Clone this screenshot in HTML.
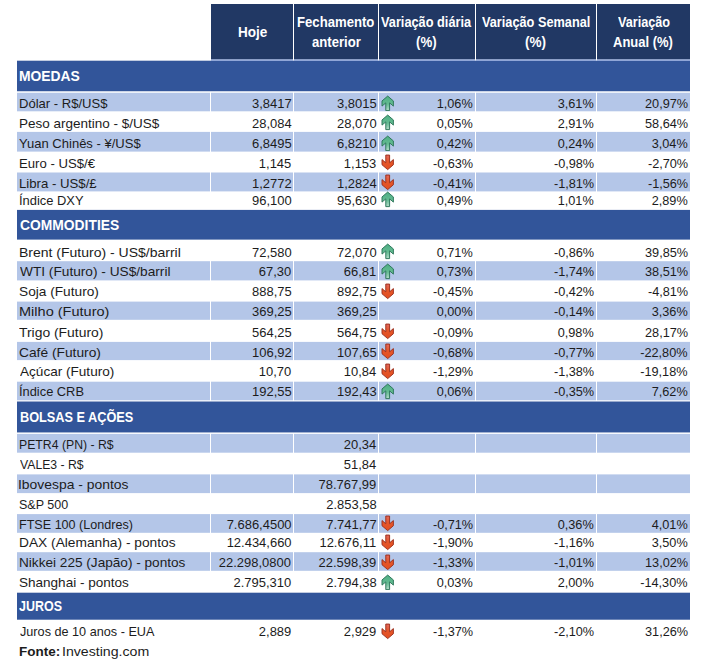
<!DOCTYPE html>
<html lang="pt-BR"><head><meta charset="utf-8"><title>Indicadores</title>
<style>
html,body{margin:0;padding:0;background:#fff;}
body{width:706px;height:662px;position:relative;overflow:hidden;font-family:"Liberation Sans",sans-serif;color:#1c1c1c;}
.bg{position:absolute;left:0;top:0;}
.t{position:absolute;white-space:nowrap;line-height:1;}
.n{font-size:13.3px;}
.nb{font-size:13.3px;font-weight:bold;}
.h{font-size:13.8px;font-weight:bold;color:#fff;}
.s{font-size:14.7px;font-weight:bold;color:#fff;}
.ar{position:absolute;left:381.1px;}
</style></head><body>
<svg width="0" height="0" style="position:absolute"><defs>
<linearGradient id="gu" x1="0" y1="0" x2="0" y2="1"><stop offset="0" stop-color="#4fae84"/><stop offset=".55" stop-color="#63bb91"/><stop offset="1" stop-color="#b5dccb"/></linearGradient>
<linearGradient id="gd" x1="0" y1="0" x2="0" y2="1"><stop offset="0" stop-color="#e26a60"/><stop offset=".45" stop-color="#e5562a"/><stop offset="1" stop-color="#e24e1f"/></linearGradient>
</defs></svg>
<svg class="bg" width="706" height="662" viewBox="0 0 706 662"><rect x="211" y="58" width="479" height="3.2" fill="#b9caf2"/><rect x="211.00" y="4.00" width="82.00" height="55.30" fill="#213864"/><rect x="294.00" y="4.00" width="84.00" height="55.30" fill="#213864"/><rect x="379.00" y="4.00" width="96.00" height="55.30" fill="#213864"/><rect x="476.00" y="4.00" width="120.00" height="55.30" fill="#213864"/><rect x="597.00" y="4.00" width="93.00" height="55.30" fill="#213864"/><rect x="293.00" y="4" width="1" height="56.8" fill="#fff"/><rect x="378.00" y="4" width="1" height="56.8" fill="#fff"/><rect x="475.00" y="4" width="1" height="56.8" fill="#fff"/><rect x="596.00" y="4" width="1" height="56.8" fill="#fff"/><rect x="17.00" y="60.70" width="673.00" height="30.55" fill="#32559a"/><rect x="17.00" y="209.90" width="673.00" height="29.70" fill="#32559a"/><rect x="17.00" y="401.50" width="673.00" height="30.95" fill="#32559a"/><rect x="17.00" y="592.70" width="673.00" height="27.00" fill="#32559a"/><rect x="17.00" y="92.75" width="193.00" height="18.55" fill="#b4c6e8"/><rect x="211.00" y="92.75" width="82.00" height="18.55" fill="#b4c6e8"/><rect x="294.00" y="92.75" width="84.00" height="18.55" fill="#b4c6e8"/><rect x="379.00" y="92.75" width="96.00" height="18.55" fill="#b4c6e8"/><rect x="476.00" y="92.75" width="120.00" height="18.55" fill="#b4c6e8"/><rect x="597.00" y="92.75" width="93.00" height="18.55" fill="#b4c6e8"/><rect x="17.00" y="131.90" width="193.00" height="19.70" fill="#b4c6e8"/><rect x="211.00" y="131.90" width="82.00" height="19.70" fill="#b4c6e8"/><rect x="294.00" y="131.90" width="84.00" height="19.70" fill="#b4c6e8"/><rect x="379.00" y="131.90" width="96.00" height="19.70" fill="#b4c6e8"/><rect x="476.00" y="131.90" width="120.00" height="19.70" fill="#b4c6e8"/><rect x="597.00" y="131.90" width="93.00" height="19.70" fill="#b4c6e8"/><rect x="17.00" y="172.50" width="193.00" height="18.90" fill="#b4c6e8"/><rect x="211.00" y="172.50" width="82.00" height="18.90" fill="#b4c6e8"/><rect x="294.00" y="172.50" width="84.00" height="18.90" fill="#b4c6e8"/><rect x="379.00" y="172.50" width="96.00" height="18.90" fill="#b4c6e8"/><rect x="476.00" y="172.50" width="120.00" height="18.90" fill="#b4c6e8"/><rect x="597.00" y="172.50" width="93.00" height="18.90" fill="#b4c6e8"/><rect x="17.00" y="261.20" width="193.00" height="19.20" fill="#b4c6e8"/><rect x="211.00" y="261.20" width="82.00" height="19.20" fill="#b4c6e8"/><rect x="294.00" y="261.20" width="84.00" height="19.20" fill="#b4c6e8"/><rect x="379.00" y="261.20" width="96.00" height="19.20" fill="#b4c6e8"/><rect x="476.00" y="261.20" width="120.00" height="19.20" fill="#b4c6e8"/><rect x="597.00" y="261.20" width="93.00" height="19.20" fill="#b4c6e8"/><rect x="17.00" y="301.60" width="193.00" height="18.20" fill="#b4c6e8"/><rect x="211.00" y="301.60" width="82.00" height="18.20" fill="#b4c6e8"/><rect x="294.00" y="301.60" width="84.00" height="18.20" fill="#b4c6e8"/><rect x="379.00" y="301.60" width="96.00" height="18.20" fill="#b4c6e8"/><rect x="476.00" y="301.60" width="120.00" height="18.20" fill="#b4c6e8"/><rect x="597.00" y="301.60" width="93.00" height="18.20" fill="#b4c6e8"/><rect x="17.00" y="341.90" width="193.00" height="18.20" fill="#b4c6e8"/><rect x="211.00" y="341.90" width="82.00" height="18.20" fill="#b4c6e8"/><rect x="294.00" y="341.90" width="84.00" height="18.20" fill="#b4c6e8"/><rect x="379.00" y="341.90" width="96.00" height="18.20" fill="#b4c6e8"/><rect x="476.00" y="341.90" width="120.00" height="18.20" fill="#b4c6e8"/><rect x="597.00" y="341.90" width="93.00" height="18.20" fill="#b4c6e8"/><rect x="17.00" y="381.70" width="193.00" height="18.60" fill="#b4c6e8"/><rect x="211.00" y="381.70" width="82.00" height="18.60" fill="#b4c6e8"/><rect x="294.00" y="381.70" width="84.00" height="18.60" fill="#b4c6e8"/><rect x="379.00" y="381.70" width="96.00" height="18.60" fill="#b4c6e8"/><rect x="476.00" y="381.70" width="120.00" height="18.60" fill="#b4c6e8"/><rect x="597.00" y="381.70" width="93.00" height="18.60" fill="#b4c6e8"/><rect x="17.00" y="433.90" width="193.00" height="18.80" fill="#b4c6e8"/><rect x="211.00" y="433.90" width="82.00" height="18.80" fill="#b4c6e8"/><rect x="294.00" y="433.90" width="84.00" height="18.80" fill="#b4c6e8"/><rect x="379.00" y="433.90" width="96.00" height="18.80" fill="#b4c6e8"/><rect x="476.00" y="433.90" width="120.00" height="18.80" fill="#b4c6e8"/><rect x="597.00" y="433.90" width="93.00" height="18.80" fill="#b4c6e8"/><rect x="17.00" y="474.40" width="193.00" height="18.70" fill="#b4c6e8"/><rect x="211.00" y="474.40" width="82.00" height="18.70" fill="#b4c6e8"/><rect x="294.00" y="474.40" width="84.00" height="18.70" fill="#b4c6e8"/><rect x="379.00" y="474.40" width="96.00" height="18.70" fill="#b4c6e8"/><rect x="476.00" y="474.40" width="120.00" height="18.70" fill="#b4c6e8"/><rect x="597.00" y="474.40" width="93.00" height="18.70" fill="#b4c6e8"/><rect x="17.00" y="514.10" width="193.00" height="18.70" fill="#b4c6e8"/><rect x="211.00" y="514.10" width="82.00" height="18.70" fill="#b4c6e8"/><rect x="294.00" y="514.10" width="84.00" height="18.70" fill="#b4c6e8"/><rect x="379.00" y="514.10" width="96.00" height="18.70" fill="#b4c6e8"/><rect x="476.00" y="514.10" width="120.00" height="18.70" fill="#b4c6e8"/><rect x="597.00" y="514.10" width="93.00" height="18.70" fill="#b4c6e8"/><rect x="17.00" y="552.20" width="193.00" height="18.60" fill="#b4c6e8"/><rect x="211.00" y="552.20" width="82.00" height="18.60" fill="#b4c6e8"/><rect x="294.00" y="552.20" width="84.00" height="18.60" fill="#b4c6e8"/><rect x="379.00" y="552.20" width="96.00" height="18.60" fill="#b4c6e8"/><rect x="476.00" y="552.20" width="120.00" height="18.60" fill="#b4c6e8"/><rect x="597.00" y="552.20" width="93.00" height="18.60" fill="#b4c6e8"/></svg>
<div class="t s" style="left:19.47px;top:69.26px;transform-origin:0 0;transform:scaleX(0.9442)">MOEDAS</div>
<div class="t n" style="left:18.63px;top:96.74px;transform-origin:0 0;transform:scaleX(0.9814)">Dólar - R$/US$</div>
<div class="t n" style="right:414.55px;top:96.74px;transform-origin:100% 0;transform:scaleX(0.9750)">3,8417</div>
<div class="t n" style="right:329.46px;top:96.74px;transform-origin:100% 0;transform:scaleX(0.9750)">3,8015</div>
<div class="t n" style="right:232.95px;top:96.74px;transform-origin:100% 0;transform:scaleX(0.9550)">1,06%</div>
<div class="t n" style="right:112.15px;top:96.74px;transform-origin:100% 0;transform:scaleX(0.9550)">3,61%</div>
<div class="t n" style="right:18.25px;top:96.74px;transform-origin:100% 0;transform:scaleX(0.9550)">20,97%</div>
<div class="t n" style="left:18.59px;top:116.64px;transform-origin:0 0;transform:scaleX(1.0151)">Peso argentino - $/US$</div>
<div class="t n" style="right:414.82px;top:116.64px;transform-origin:100% 0;transform:scaleX(0.9750)">28,084</div>
<div class="t n" style="right:329.49px;top:116.64px;transform-origin:100% 0;transform:scaleX(0.9750)">28,070</div>
<div class="t n" style="right:232.95px;top:116.64px;transform-origin:100% 0;transform:scaleX(0.9550)">0,05%</div>
<div class="t n" style="right:112.15px;top:116.64px;transform-origin:100% 0;transform:scaleX(0.9550)">2,91%</div>
<div class="t n" style="right:18.25px;top:116.64px;transform-origin:100% 0;transform:scaleX(0.9550)">58,64%</div>
<div class="t n" style="left:19.41px;top:136.74px;transform-origin:0 0;transform:scaleX(0.9799)">Yuan Chinês - ¥/US$</div>
<div class="t n" style="right:414.66px;top:136.74px;transform-origin:100% 0;transform:scaleX(0.9750)">6,8495</div>
<div class="t n" style="right:329.49px;top:136.74px;transform-origin:100% 0;transform:scaleX(0.9750)">6,8210</div>
<div class="t n" style="right:232.95px;top:136.74px;transform-origin:100% 0;transform:scaleX(0.9550)">0,42%</div>
<div class="t n" style="right:112.15px;top:136.74px;transform-origin:100% 0;transform:scaleX(0.9550)">0,24%</div>
<div class="t n" style="right:18.25px;top:136.74px;transform-origin:100% 0;transform:scaleX(0.9550)">3,04%</div>
<div class="t n" style="left:18.62px;top:156.64px;transform-origin:0 0;transform:scaleX(0.9882)">Euro - US$/€</div>
<div class="t n" style="right:414.66px;top:156.64px;transform-origin:100% 0;transform:scaleX(0.9750)">1,145</div>
<div class="t n" style="right:329.43px;top:156.64px;transform-origin:100% 0;transform:scaleX(0.9750)">1,153</div>
<div class="t n" style="right:232.95px;top:156.64px;transform-origin:100% 0;transform:scaleX(0.9550)">-0,63%</div>
<div class="t n" style="right:112.15px;top:156.64px;transform-origin:100% 0;transform:scaleX(0.9550)">-0,98%</div>
<div class="t n" style="right:18.25px;top:156.64px;transform-origin:100% 0;transform:scaleX(0.9550)">-2,70%</div>
<div class="t n" style="left:18.62px;top:176.54px;transform-origin:0 0;transform:scaleX(0.9919)">Libra - US$/£</div>
<div class="t n" style="right:414.55px;top:176.54px;transform-origin:100% 0;transform:scaleX(0.9750)">1,2772</div>
<div class="t n" style="right:329.62px;top:176.54px;transform-origin:100% 0;transform:scaleX(0.9750)">1,2824</div>
<div class="t n" style="right:232.95px;top:176.54px;transform-origin:100% 0;transform:scaleX(0.9550)">-0,41%</div>
<div class="t n" style="right:112.15px;top:176.54px;transform-origin:100% 0;transform:scaleX(0.9550)">-1,81%</div>
<div class="t n" style="right:18.25px;top:176.54px;transform-origin:100% 0;transform:scaleX(0.9550)">-1,56%</div>
<div class="t n" style="left:18.80px;top:193.54px;transform-origin:0 0;transform:scaleX(0.9707)">Índice DXY</div>
<div class="t n" style="right:414.69px;top:193.54px;transform-origin:100% 0;transform:scaleX(0.9750)">96,100</div>
<div class="t n" style="right:329.49px;top:193.54px;transform-origin:100% 0;transform:scaleX(0.9750)">95,630</div>
<div class="t n" style="right:232.95px;top:193.54px;transform-origin:100% 0;transform:scaleX(0.9550)">0,49%</div>
<div class="t n" style="right:112.15px;top:193.54px;transform-origin:100% 0;transform:scaleX(0.9550)">1,01%</div>
<div class="t n" style="right:18.25px;top:193.54px;transform-origin:100% 0;transform:scaleX(0.9550)">2,89%</div>
<div class="t s" style="left:19.83px;top:218.46px;transform-origin:0 0;transform:scaleX(0.9425)">COMMODITIES</div>
<div class="t n" style="left:18.55px;top:245.64px;transform-origin:0 0;transform:scaleX(1.0526)">Brent (Futuro) - US$/barril</div>
<div class="t n" style="right:414.69px;top:245.64px;transform-origin:100% 0;transform:scaleX(0.9750)">72,580</div>
<div class="t n" style="right:329.49px;top:245.64px;transform-origin:100% 0;transform:scaleX(0.9750)">72,070</div>
<div class="t n" style="right:232.95px;top:245.64px;transform-origin:100% 0;transform:scaleX(0.9550)">0,71%</div>
<div class="t n" style="right:112.15px;top:245.64px;transform-origin:100% 0;transform:scaleX(0.9550)">-0,86%</div>
<div class="t n" style="right:18.25px;top:245.64px;transform-origin:100% 0;transform:scaleX(0.9550)">39,85%</div>
<div class="t n" style="left:19.64px;top:265.44px;transform-origin:0 0;transform:scaleX(1.0287)">WTI (Futuro) - US$/barril</div>
<div class="t n" style="right:414.69px;top:265.44px;transform-origin:100% 0;transform:scaleX(0.9750)">67,30</div>
<div class="t n" style="right:329.37px;top:265.44px;transform-origin:100% 0;transform:scaleX(0.9750)">66,81</div>
<div class="t n" style="right:232.95px;top:265.44px;transform-origin:100% 0;transform:scaleX(0.9550)">0,73%</div>
<div class="t n" style="right:112.15px;top:265.44px;transform-origin:100% 0;transform:scaleX(0.9550)">-1,74%</div>
<div class="t n" style="right:18.25px;top:265.44px;transform-origin:100% 0;transform:scaleX(0.9550)">38,51%</div>
<div class="t n" style="left:19.08px;top:285.34px;transform-origin:0 0;transform:scaleX(1.0293)">Soja (Futuro)</div>
<div class="t n" style="right:414.66px;top:285.34px;transform-origin:100% 0;transform:scaleX(0.9750)">888,75</div>
<div class="t n" style="right:329.46px;top:285.34px;transform-origin:100% 0;transform:scaleX(0.9750)">892,75</div>
<div class="t n" style="right:232.95px;top:285.34px;transform-origin:100% 0;transform:scaleX(0.9550)">-0,45%</div>
<div class="t n" style="right:112.15px;top:285.34px;transform-origin:100% 0;transform:scaleX(0.9550)">-0,42%</div>
<div class="t n" style="right:18.25px;top:285.34px;transform-origin:100% 0;transform:scaleX(0.9550)">-4,81%</div>
<div class="t n" style="left:18.51px;top:305.24px;transform-origin:0 0;transform:scaleX(1.0921)">Milho (Futuro)</div>
<div class="t n" style="right:414.66px;top:305.24px;transform-origin:100% 0;transform:scaleX(0.9750)">369,25</div>
<div class="t n" style="right:329.46px;top:305.24px;transform-origin:100% 0;transform:scaleX(0.9750)">369,25</div>
<div class="t n" style="right:232.95px;top:305.24px;transform-origin:100% 0;transform:scaleX(0.9550)">0,00%</div>
<div class="t n" style="right:112.15px;top:305.24px;transform-origin:100% 0;transform:scaleX(0.9550)">-0,14%</div>
<div class="t n" style="right:18.25px;top:305.24px;transform-origin:100% 0;transform:scaleX(0.9550)">3,36%</div>
<div class="t n" style="left:19.39px;top:325.64px;transform-origin:0 0;transform:scaleX(1.0445)">Trigo (Futuro)</div>
<div class="t n" style="right:414.66px;top:325.64px;transform-origin:100% 0;transform:scaleX(0.9750)">564,25</div>
<div class="t n" style="right:329.46px;top:325.64px;transform-origin:100% 0;transform:scaleX(0.9750)">564,75</div>
<div class="t n" style="right:232.95px;top:325.64px;transform-origin:100% 0;transform:scaleX(0.9550)">-0,09%</div>
<div class="t n" style="right:112.15px;top:325.64px;transform-origin:100% 0;transform:scaleX(0.9550)">0,98%</div>
<div class="t n" style="right:18.25px;top:325.64px;transform-origin:100% 0;transform:scaleX(0.9550)">28,17%</div>
<div class="t n" style="left:19.00px;top:345.54px;transform-origin:0 0;transform:scaleX(1.0364)">Café (Futuro)</div>
<div class="t n" style="right:414.55px;top:345.54px;transform-origin:100% 0;transform:scaleX(0.9750)">106,92</div>
<div class="t n" style="right:329.46px;top:345.54px;transform-origin:100% 0;transform:scaleX(0.9750)">107,65</div>
<div class="t n" style="right:232.95px;top:345.54px;transform-origin:100% 0;transform:scaleX(0.9550)">-0,68%</div>
<div class="t n" style="right:112.15px;top:345.54px;transform-origin:100% 0;transform:scaleX(0.9550)">-0,77%</div>
<div class="t n" style="right:18.25px;top:345.54px;transform-origin:100% 0;transform:scaleX(0.9550)">-22,80%</div>
<div class="t n" style="left:19.67px;top:365.34px;transform-origin:0 0;transform:scaleX(1.0205)">Açúcar (Futuro)</div>
<div class="t n" style="right:414.69px;top:365.34px;transform-origin:100% 0;transform:scaleX(0.9750)">10,70</div>
<div class="t n" style="right:329.62px;top:365.34px;transform-origin:100% 0;transform:scaleX(0.9750)">10,84</div>
<div class="t n" style="right:232.95px;top:365.34px;transform-origin:100% 0;transform:scaleX(0.9550)">-1,29%</div>
<div class="t n" style="right:112.15px;top:365.34px;transform-origin:100% 0;transform:scaleX(0.9550)">-1,38%</div>
<div class="t n" style="right:18.25px;top:365.34px;transform-origin:100% 0;transform:scaleX(0.9550)">-19,18%</div>
<div class="t n" style="left:18.81px;top:385.24px;transform-origin:0 0;transform:scaleX(0.9658)">Índice CRB</div>
<div class="t n" style="right:414.66px;top:385.24px;transform-origin:100% 0;transform:scaleX(0.9750)">192,55</div>
<div class="t n" style="right:329.43px;top:385.24px;transform-origin:100% 0;transform:scaleX(0.9750)">192,43</div>
<div class="t n" style="right:232.95px;top:385.24px;transform-origin:100% 0;transform:scaleX(0.9550)">0,06%</div>
<div class="t n" style="right:112.15px;top:385.24px;transform-origin:100% 0;transform:scaleX(0.9550)">-0,35%</div>
<div class="t n" style="right:18.25px;top:385.24px;transform-origin:100% 0;transform:scaleX(0.9550)">7,62%</div>
<div class="t s" style="left:19.55px;top:409.86px;transform-origin:0 0;transform:scaleX(0.8662)">BOLSAS E AÇÕES</div>
<div class="t n" style="left:18.70px;top:438.34px;transform-origin:0 0;transform:scaleX(0.9211)">PETR4 (PN) - R$</div>
<div class="t n" style="right:329.62px;top:438.34px;transform-origin:100% 0;transform:scaleX(0.9750)">20,34</div>
<div class="t n" style="left:19.65px;top:458.44px;transform-origin:0 0;transform:scaleX(0.9194)">VALE3 - R$</div>
<div class="t n" style="right:329.62px;top:458.44px;transform-origin:100% 0;transform:scaleX(0.9750)">51,84</div>
<div class="t n" style="left:18.42px;top:478.24px;transform-origin:0 0;transform:scaleX(1.0451)">Ibovespa - pontos</div>
<div class="t n" style="right:329.39px;top:478.24px;transform-origin:100% 0;transform:scaleX(0.9750)">78.767,99</div>
<div class="t n" style="left:19.13px;top:498.04px;transform-origin:0 0;transform:scaleX(0.9408)">S&amp;P 500</div>
<div class="t n" style="right:329.44px;top:498.04px;transform-origin:100% 0;transform:scaleX(0.9750)">2.853,58</div>
<div class="t n" style="left:18.67px;top:517.64px;transform-origin:0 0;transform:scaleX(0.9456)">FTSE 100 (Londres)</div>
<div class="t n" style="right:414.69px;top:517.64px;transform-origin:100% 0;transform:scaleX(0.9750)">7.686,4500</div>
<div class="t n" style="right:329.35px;top:517.64px;transform-origin:100% 0;transform:scaleX(0.9750)">7.741,77</div>
<div class="t n" style="right:232.95px;top:517.64px;transform-origin:100% 0;transform:scaleX(0.9550)">-0,71%</div>
<div class="t n" style="right:112.15px;top:517.64px;transform-origin:100% 0;transform:scaleX(0.9550)">0,36%</div>
<div class="t n" style="right:18.25px;top:517.64px;transform-origin:100% 0;transform:scaleX(0.9550)">4,01%</div>
<div class="t n" style="left:18.57px;top:536.24px;transform-origin:0 0;transform:scaleX(1.0331)">DAX (Alemanha) - pontos</div>
<div class="t n" style="right:414.69px;top:536.24px;transform-origin:100% 0;transform:scaleX(0.9750)">12.434,660</div>
<div class="t n" style="right:329.37px;top:536.24px;transform-origin:100% 0;transform:scaleX(0.9750)">12.676,11</div>
<div class="t n" style="right:232.95px;top:536.24px;transform-origin:100% 0;transform:scaleX(0.9550)">-1,90%</div>
<div class="t n" style="right:112.15px;top:536.24px;transform-origin:100% 0;transform:scaleX(0.9550)">-1,16%</div>
<div class="t n" style="right:18.25px;top:536.24px;transform-origin:100% 0;transform:scaleX(0.9550)">3,50%</div>
<div class="t n" style="left:18.58px;top:555.94px;transform-origin:0 0;transform:scaleX(1.0234)">Nikkei 225 (Japão) - pontos</div>
<div class="t n" style="right:414.69px;top:555.94px;transform-origin:100% 0;transform:scaleX(0.9750)">22.298,0800</div>
<div class="t n" style="right:329.39px;top:555.94px;transform-origin:100% 0;transform:scaleX(0.9750)">22.598,39</div>
<div class="t n" style="right:232.95px;top:555.94px;transform-origin:100% 0;transform:scaleX(0.9550)">-1,33%</div>
<div class="t n" style="right:112.15px;top:555.94px;transform-origin:100% 0;transform:scaleX(0.9550)">-1,01%</div>
<div class="t n" style="right:18.25px;top:555.94px;transform-origin:100% 0;transform:scaleX(0.9550)">13,02%</div>
<div class="t n" style="left:19.09px;top:575.94px;transform-origin:0 0;transform:scaleX(1.0173)">Shanghai - pontos</div>
<div class="t n" style="right:414.69px;top:575.94px;transform-origin:100% 0;transform:scaleX(0.9750)">2.795,310</div>
<div class="t n" style="right:329.44px;top:575.94px;transform-origin:100% 0;transform:scaleX(0.9750)">2.794,38</div>
<div class="t n" style="right:232.95px;top:575.94px;transform-origin:100% 0;transform:scaleX(0.9550)">0,03%</div>
<div class="t n" style="right:112.15px;top:575.94px;transform-origin:100% 0;transform:scaleX(0.9550)">2,00%</div>
<div class="t n" style="right:18.25px;top:575.94px;transform-origin:100% 0;transform:scaleX(0.9550)">-14,30%</div>
<div class="t s" style="left:19.11px;top:599.16px;transform-origin:0 0;transform:scaleX(0.8492)">JUROS</div>
<div class="t n" style="left:19.50px;top:625.24px;transform-origin:0 0;transform:scaleX(0.9522)">Juros de 10 anos - EUA</div>
<div class="t n" style="right:414.59px;top:625.24px;transform-origin:100% 0;transform:scaleX(0.9750)">2,889</div>
<div class="t n" style="right:329.39px;top:625.24px;transform-origin:100% 0;transform:scaleX(0.9750)">2,929</div>
<div class="t n" style="right:232.95px;top:625.24px;transform-origin:100% 0;transform:scaleX(0.9550)">-1,37%</div>
<div class="t n" style="right:112.15px;top:625.24px;transform-origin:100% 0;transform:scaleX(0.9550)">-2,10%</div>
<div class="t n" style="right:18.25px;top:625.24px;transform-origin:100% 0;transform:scaleX(0.9550)">31,26%</div>
<div class="t nb" style="left:18.80px;top:645.14px;transform-origin:0 0;transform:scaleX(1.0141)">Fonte:</div>
<div class="t n" style="left:62.09px;top:645.14px;transform-origin:0 0;transform:scaleX(1.0633)">Investing.com</div>
<div class="t h" style="left:237.79px;top:25.62px;transform-origin:0 0;transform:scaleX(0.9821)">Hoje</div>
<div class="t h" style="left:297.02px;top:15.72px;transform-origin:0 0;transform:scaleX(0.9523)">Fechamento</div>
<div class="t h" style="left:311.72px;top:35.52px;transform-origin:0 0;transform:scaleX(0.9495)">anterior</div>
<div class="t h" style="left:381.11px;top:15.72px;transform-origin:0 0;transform:scaleX(0.9249)">Variação diária</div>
<div class="t h" style="left:416.24px;top:35.52px;transform-origin:0 0;transform:scaleX(0.9605)">(%)</div>
<div class="t h" style="left:481.91px;top:15.72px;transform-origin:0 0;transform:scaleX(0.9227)">Variação Semanal</div>
<div class="t h" style="left:525.13px;top:35.52px;transform-origin:0 0;transform:scaleX(0.9804)">(%)</div>
<div class="t h" style="left:618.01px;top:15.72px;transform-origin:0 0;transform:scaleX(0.9175)">Variação</div>
<div class="t h" style="left:613.38px;top:35.52px;transform-origin:0 0;transform:scaleX(0.9410)">Anual (%)</div>
<svg class="ar" style="top:94.5px" width="13.4" height="16.7" viewBox="0 0 14 17.4"><path d="M7 1.1 L12.95 6.2 L12.95 11.6 L9 8.2 L9 16.3 L5 16.3 L5 8.2 L1.05 11.6 L1.05 6.2 Z" fill="url(#gu)" stroke="#2a7558" stroke-width="1" stroke-linejoin="round"/></svg>
<svg class="ar" style="top:114.4px" width="13.4" height="16.7" viewBox="0 0 14 17.4"><path d="M7 1.1 L12.95 6.2 L12.95 11.6 L9 8.2 L9 16.3 L5 16.3 L5 8.2 L1.05 11.6 L1.05 6.2 Z" fill="url(#gu)" stroke="#2a7558" stroke-width="1" stroke-linejoin="round"/></svg>
<svg class="ar" style="top:134.5px" width="13.4" height="16.7" viewBox="0 0 14 17.4"><path d="M7 1.1 L12.95 6.2 L12.95 11.6 L9 8.2 L9 16.3 L5 16.3 L5 8.2 L1.05 11.6 L1.05 6.2 Z" fill="url(#gu)" stroke="#2a7558" stroke-width="1" stroke-linejoin="round"/></svg>
<svg class="ar" style="top:154.4px" width="13.4" height="16.7" viewBox="0 0 14 17.4"><path d="M7 16.3 L12.95 11.2 L12.95 5.8 L9 9.2 L9 1.1 L5 1.1 L5 9.2 L1.05 5.8 L1.05 11.2 Z" fill="url(#gd)" stroke="#9a2f1c" stroke-width="1" stroke-linejoin="round"/></svg>
<svg class="ar" style="top:174.3px" width="13.4" height="16.7" viewBox="0 0 14 17.4"><path d="M7 16.3 L12.95 11.2 L12.95 5.8 L9 9.2 L9 1.1 L5 1.1 L5 9.2 L1.05 5.8 L1.05 11.2 Z" fill="url(#gd)" stroke="#9a2f1c" stroke-width="1" stroke-linejoin="round"/></svg>
<svg class="ar" style="top:191.3px" width="13.4" height="16.7" viewBox="0 0 14 17.4"><path d="M7 1.1 L12.95 6.2 L12.95 11.6 L9 8.2 L9 16.3 L5 16.3 L5 8.2 L1.05 11.6 L1.05 6.2 Z" fill="url(#gu)" stroke="#2a7558" stroke-width="1" stroke-linejoin="round"/></svg>
<svg class="ar" style="top:243.4px" width="13.4" height="16.7" viewBox="0 0 14 17.4"><path d="M7 1.1 L12.95 6.2 L12.95 11.6 L9 8.2 L9 16.3 L5 16.3 L5 8.2 L1.05 11.6 L1.05 6.2 Z" fill="url(#gu)" stroke="#2a7558" stroke-width="1" stroke-linejoin="round"/></svg>
<svg class="ar" style="top:263.2px" width="13.4" height="16.7" viewBox="0 0 14 17.4"><path d="M7 1.1 L12.95 6.2 L12.95 11.6 L9 8.2 L9 16.3 L5 16.3 L5 8.2 L1.05 11.6 L1.05 6.2 Z" fill="url(#gu)" stroke="#2a7558" stroke-width="1" stroke-linejoin="round"/></svg>
<svg class="ar" style="top:283.1px" width="13.4" height="16.7" viewBox="0 0 14 17.4"><path d="M7 16.3 L12.95 11.2 L12.95 5.8 L9 9.2 L9 1.1 L5 1.1 L5 9.2 L1.05 5.8 L1.05 11.2 Z" fill="url(#gd)" stroke="#9a2f1c" stroke-width="1" stroke-linejoin="round"/></svg>
<svg class="ar" style="top:323.4px" width="13.4" height="16.7" viewBox="0 0 14 17.4"><path d="M7 16.3 L12.95 11.2 L12.95 5.8 L9 9.2 L9 1.1 L5 1.1 L5 9.2 L1.05 5.8 L1.05 11.2 Z" fill="url(#gd)" stroke="#9a2f1c" stroke-width="1" stroke-linejoin="round"/></svg>
<svg class="ar" style="top:343.3px" width="13.4" height="16.7" viewBox="0 0 14 17.4"><path d="M7 16.3 L12.95 11.2 L12.95 5.8 L9 9.2 L9 1.1 L5 1.1 L5 9.2 L1.05 5.8 L1.05 11.2 Z" fill="url(#gd)" stroke="#9a2f1c" stroke-width="1" stroke-linejoin="round"/></svg>
<svg class="ar" style="top:363.1px" width="13.4" height="16.7" viewBox="0 0 14 17.4"><path d="M7 16.3 L12.95 11.2 L12.95 5.8 L9 9.2 L9 1.1 L5 1.1 L5 9.2 L1.05 5.8 L1.05 11.2 Z" fill="url(#gd)" stroke="#9a2f1c" stroke-width="1" stroke-linejoin="round"/></svg>
<svg class="ar" style="top:383.0px" width="13.4" height="16.7" viewBox="0 0 14 17.4"><path d="M7 1.1 L12.95 6.2 L12.95 11.6 L9 8.2 L9 16.3 L5 16.3 L5 8.2 L1.05 11.6 L1.05 6.2 Z" fill="url(#gu)" stroke="#2a7558" stroke-width="1" stroke-linejoin="round"/></svg>
<svg class="ar" style="top:515.4px" width="13.4" height="16.7" viewBox="0 0 14 17.4"><path d="M7 16.3 L12.95 11.2 L12.95 5.8 L9 9.2 L9 1.1 L5 1.1 L5 9.2 L1.05 5.8 L1.05 11.2 Z" fill="url(#gd)" stroke="#9a2f1c" stroke-width="1" stroke-linejoin="round"/></svg>
<svg class="ar" style="top:534.0px" width="13.4" height="16.7" viewBox="0 0 14 17.4"><path d="M7 16.3 L12.95 11.2 L12.95 5.8 L9 9.2 L9 1.1 L5 1.1 L5 9.2 L1.05 5.8 L1.05 11.2 Z" fill="url(#gd)" stroke="#9a2f1c" stroke-width="1" stroke-linejoin="round"/></svg>
<svg class="ar" style="top:553.7px" width="13.4" height="16.7" viewBox="0 0 14 17.4"><path d="M7 16.3 L12.95 11.2 L12.95 5.8 L9 9.2 L9 1.1 L5 1.1 L5 9.2 L1.05 5.8 L1.05 11.2 Z" fill="url(#gd)" stroke="#9a2f1c" stroke-width="1" stroke-linejoin="round"/></svg>
<svg class="ar" style="top:573.7px" width="13.4" height="16.7" viewBox="0 0 14 17.4"><path d="M7 1.1 L12.95 6.2 L12.95 11.6 L9 8.2 L9 16.3 L5 16.3 L5 8.2 L1.05 11.6 L1.05 6.2 Z" fill="url(#gu)" stroke="#2a7558" stroke-width="1" stroke-linejoin="round"/></svg>
<svg class="ar" style="top:623.0px" width="13.4" height="16.7" viewBox="0 0 14 17.4"><path d="M7 16.3 L12.95 11.2 L12.95 5.8 L9 9.2 L9 1.1 L5 1.1 L5 9.2 L1.05 5.8 L1.05 11.2 Z" fill="url(#gd)" stroke="#9a2f1c" stroke-width="1" stroke-linejoin="round"/></svg>
</body></html>
